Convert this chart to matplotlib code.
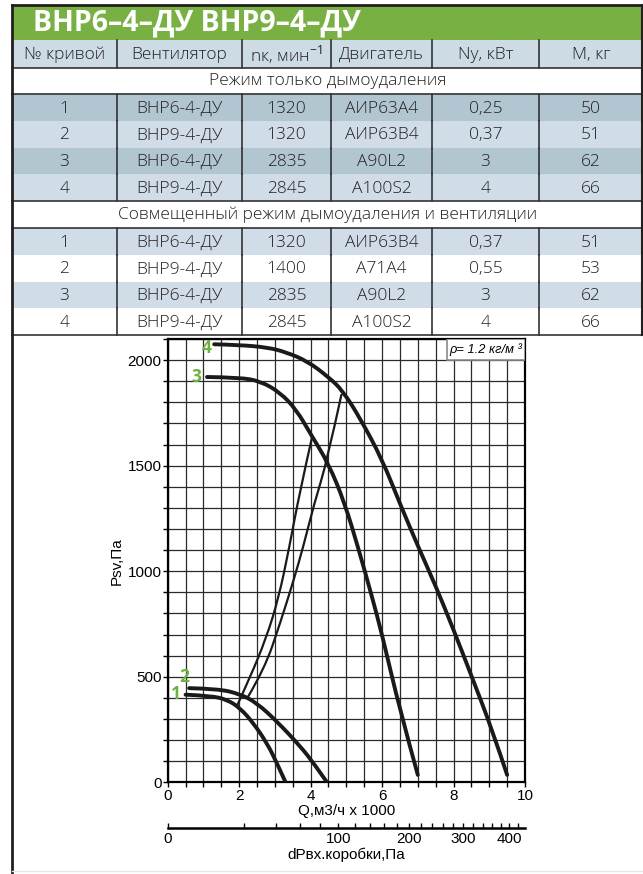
import numpy as np
import matplotlib
matplotlib.use("Agg")
import matplotlib.pyplot as plt
from matplotlib.patches import Rectangle, PathPatch
from matplotlib.path import Path
from matplotlib.ticker import FixedLocator

plt.rcParams['font.family'] = ['Liberation Sans Narrow', 'Liberation Sans', 'DejaVu Sans']
plt.rcParams['mathtext.fontset'] = 'custom'
plt.rcParams['mathtext.rm'] = 'Open Sans'

# ---- table data ----
title = "ВНР6–4–ДУ ВНР9–4–ДУ"
headers = ["№ кривой", "Вентилятор", "nк, мин$^{-1}$", "Двигатель", "Nу, кВт", "М, кг"]
section1 = "Режим только дымоудаления"
rows1 = [["1", "ВНР6-4-ДУ", "1320", "АИР63А4", "0,25", "50"],
         ["2", "ВНР9-4-ДУ", "1320", "АИР63В4", "0,37", "51"],
         ["3", "ВНР6-4-ДУ", "2835", "А90L2", "3", "62"],
         ["4", "ВНР9-4-ДУ", "2845", "А100S2", "4", "66"]]
section2 = "Совмещенный режим дымоудаления и вентиляции"
rows2 = [["1", "ВНР6-4-ДУ", "1320", "АИР63В4", "0,37", "51"],
         ["2", "ВНР9-4-ДУ", "1400", "А71А4", "0,55", "53"],
         ["3", "ВНР6-4-ДУ", "2835", "А90L2", "3", "62"],
         ["4", "ВНР9-4-ДУ", "2845", "А100S2", "4", "66"]]

# ---- curve data (Q, м3/ч x 1000 ; Psv, Па) ----
q1 = [0.5, 1.2, 1.67, 2.03, 2.4, 2.78, 3.06, 3.3]
p1 = [415, 410, 391, 351, 280, 185, 90, 0]
q2 = [0.6, 1.4, 2.03, 2.5, 3.06, 3.72, 4.1, 4.46]
p2 = [446, 443, 418, 375, 288, 169, 87, 0]
q3 = [1.1, 2.0, 2.6, 3.15, 3.6, 4.0, 4.5, 4.95, 5.35, 5.7, 6.0, 6.5, 7.0]
p3 = [1920, 1918, 1900, 1846, 1765, 1650, 1510, 1325, 1100, 890, 700, 340, 35]
q4 = [1.3, 2.0, 2.8, 3.3, 3.9, 4.5, 4.9, 5.4, 6.0, 6.5, 7.0, 7.5, 8.0, 8.5, 9.1, 9.5]
p4 = [2075, 2072, 2060, 2038, 1996, 1920, 1855, 1720, 1530, 1320, 1120, 930, 723, 505, 240, 35]
# system curves
qa = [1.93, 2.3, 2.75, 3.1, 3.4, 3.7, 4.04]
pa = [359, 495, 680, 870, 1110, 1380, 1635]
qb = [2.23, 2.7, 3.15, 3.53, 3.8, 4.1, 4.46, 4.86]
pb = [400, 533, 755, 960, 1120, 1320, 1522, 1835]
K_DP = 4.38  # dP = K*Q^2 scale of the bottom axis

W, H = 643, 874
fig = plt.figure(figsize=(W / 100, H / 100), dpi=100)
bg = fig.add_axes([0, 0, 1, 1])
bg.set_xlim(0, W)
bg.set_ylim(H, 0)
bg.axis('off')

tfont = dict(family=['Open Sans', 'DejaVu Sans'], fontsize=12.5, color='#231f20', fontweight='light')
cols = [12, 117, 242, 331, 432, 539, 643]
green = '#79b043'
light = '#d0dde8'
dark = '#b2c6d1'

bg.add_patch(Rectangle((12, 5), W - 12, 35, color=green, lw=0))
bg.text(33, 23, title, ha='left', va='center', color='white', fontsize=20.5,
        fontweight='bold', family=['Open Sans', 'DejaVu Sans'])

def row(y0, h, texts, color):
    bg.add_patch(Rectangle((12, y0), W - 12, h, color=color, lw=0))
    for i, t in enumerate(texts):
        bg.text((cols[i] + cols[i + 1]) / 2, y0 + h / 2 + 1, t, ha='center', va='center', **tfont)
    for x in cols[1:-1]:
        bg.plot([x, x], [y0, y0 + h], color='#333333', lw=1.2)

row(40, 27.5, headers, '#cddbe5')
bg.text((12 + W) / 2, 81, section1, ha='center', va='center', **tfont)
rh = 26.7
for k, r in enumerate(rows1):
    row(94.3 + k * rh, rh, r, dark if k % 2 == 0 else light)
bg.text((12 + W) / 2, 215, section2, ha='center', va='center', **tfont)
for k, r in enumerate(rows2):
    row(228.3 + k * rh, rh, r, light if k % 2 == 0 else 'white')

for y in [67.5, 94.3, 201, 228.3, 335]:
    bg.plot([12, W], [y, y], color='#333333', lw=1.2)
bg.plot([12, 12], [5, H], color='#231f20', lw=2)
bg.plot([12, W], [5, 5], color='#231f20', lw=2)
bg.plot([641.5, 641.5], [5, 335], color='#231f20', lw=1.5)
bg.plot([12, W], [871, 871], color='#e6e6e6', lw=1)

# ---- chart ----
x0, x1, y0, y1 = 167.7, 525, 782.3, 339
ax = fig.add_axes([x0 / W, 1 - y0 / H, (x1 - x0) / W, (y0 - y1) / H])
ax.set_xlim(0, 10)
ax.set_ylim(0, 2100)
ax.set_xticks(np.arange(0, 11, 2))
ax.set_xticks(np.arange(0, 10.01, 0.5), minor=True)
ax.set_yticks(np.arange(0, 2001, 500))
ax.set_yticks(np.arange(0, 2101, 100), minor=True)
ax.grid(which='both', color='#2a2a2a', lw=0.9)
ax.tick_params(which='both', direction='out', length=3.5, width=1, labelsize=11, pad=1)
for s in ax.spines.values():
    s.set_linewidth(1.6)
ax.set_xlabel('Q,м3/ч x 1000', fontsize=11, labelpad=1)
ax.set_ylabel('Psv,Па', fontsize=11, labelpad=3)


def smooth(q, p, lw):
    # quadratic Bezier path through the read points (rendering only)
    pts = list(zip(q, p))
    verts = [pts[0]]
    codes = [Path.MOVETO]
    for i in range(1, len(pts) - 1):
        mid = ((pts[i][0] + pts[i + 1][0]) / 2, (pts[i][1] + pts[i + 1][1]) / 2)
        if i == len(pts) - 2:
            mid = pts[-1]
        verts += [pts[i], mid]
        codes += [Path.CURVE3, Path.CURVE3]
    ax.add_patch(PathPatch(Path(verts, codes), facecolor='none', edgecolor='#1a1a1a',
                           lw=lw, capstyle='round', zorder=4 if lw > 2 else 3))


smooth(qa, pa, 1.6)
smooth(qb, pb, 1.6)
for q, p in [(q1, p1), (q2, p2), (q3, p3), (q4, p4)]:
    smooth(q, p, 2.8)

lab = dict(color='#6cb33f', fontsize=12.5, fontweight='bold', family=['Open Sans', 'DejaVu Sans'],
           ha='center', va='center', zorder=5)
ax.text(1.1, 2055, '4', **lab)
ax.text(0.79, 1920, '3', **lab)
ax.text(0.46, 500, '2', **lab)
ax.text(0.23, 420, '1', **lab)

bx0 = (447 - x0) / (x1 - x0)
by0 = 1 - (360 - y1) / (y0 - y1)
ax.add_patch(Rectangle((bx0, by0), 1 - bx0, 1 - by0, transform=ax.transAxes,
                       facecolor='white', edgecolor='#8a8a8a', lw=1.2, zorder=6))
ax.text((bx0 + 1) / 2, (by0 + 1) / 2, 'ρ= 1.2 кг/м ³', transform=ax.transAxes,
        ha='center', va='center', fontsize=9.3, style='italic', zorder=7)

sec = ax.secondary_xaxis(-(827.7 - y0) / (y0 - y1),
                         functions=(lambda q: K_DP * q ** 2,
                                    lambda d: np.sqrt(np.clip(d, 0, None) / K_DP)))
sec.set_xticks([0, 100, 200, 300, 400])
sec.xaxis.set_minor_locator(FixedLocator(np.arange(0, 440, 20)))
sec.tick_params(which='both', direction='in', length=3.5, width=1, labelsize=11, pad=3)
sec.spines['bottom'].set_linewidth(1.8)
sec.set_xlabel('dPвх.коробки,Па', fontsize=11, labelpad=1)

fig.savefig('out.png', dpi=100)
